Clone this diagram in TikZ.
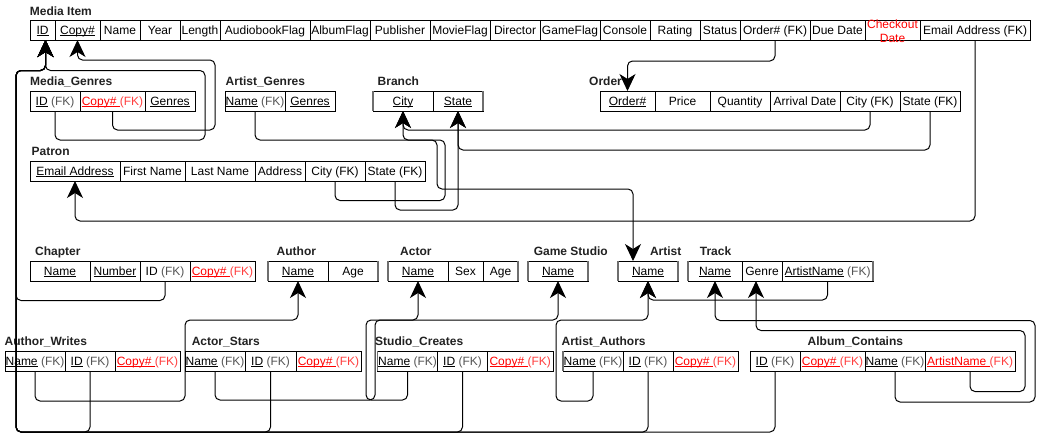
\documentclass[tikz,border=0pt]{standalone}
\usepackage{fontspec}
\setmainfont{Liberation Sans}
\usetikzlibrary{arrows.meta,calc}
\definecolor{fkgray}{HTML}{555555}
\definecolor{fkred}{HTML}{FF4040}
\definecolor{rd}{HTML}{FF0000}
\definecolor{ttlc}{HTML}{222222}
\definecolor{sidec}{HTML}{6E6E6E}
\newcommand\ulx[1]{\setbox0\hbox{#1}\rlap{\rule[-1.6pt]{\wd0}{0.75pt}}\box0\relax}
\newcommand\fk{{\color{fkgray}(FK)}}
\newcommand\fkr{{\color{fkred}(FK)}}
\newcommand\rcopy{{\color{rd}\ulx{Copy\#\ }\fkr}}
\newcommand\mkcell[5]{\node[cellbox, minimum width={#3-#2}, anchor=north west] (#1) at (#2,#4) {#5};}
\newcommand\ttl[4]{\node[ttlbox] (#1) at (#2,#3) {#4};}
\begin{document}
\begin{tikzpicture}[x=1pt,y=-1pt,
 cellbox/.style={draw, line width=1pt, minimum height=20pt, inner sep=0pt, outer sep=0pt, text height=8.6pt, text depth=0pt, font=\fontsize{12}{14}\selectfont},
 ttlbox/.style={anchor=base west, inner sep=0pt, font=\fontsize{12}{14}\selectfont\bfseries, text=ttlc},
 gside/.style={draw=sidec, line width=1.6pt},
 conn/.style={draw, line width=1pt, rounded corners=5pt, -{Stealth[length=17pt,width=16pt,inset=5pt]}}]
\fill[white] (0,0) rectangle (1052,447);
\useasboundingbox (0,0) rectangle (1052,447);

% Titles
\ttl{tMI}{29.7}{15.1}{Media Item}
\ttl{tMG}{30}{85.5}{Media\_Genres}
\ttl{tAG}{225.5}{85.5}{Artist\_Genres}
\ttl{tBR}{377.5}{85.5}{Branch}
\ttl{tOR}{589}{85.5}{Order}
\ttl{tPA}{31.4}{155}{Patron}
\ttl{tCH}{35}{255.3}{Chapter}
\ttl{tAU}{276.5}{255.3}{Author}
\ttl{tAC}{400}{255.3}{Actor}
\ttl{tGS}{533.6}{255.3}{Game Studio}
\ttl{tAR}{649.8}{255.3}{Artist}
\ttl{tTR}{699.7}{255.3}{Track}
\ttl{tAW}{4.4}{345.6}{Author\_Writes}
\ttl{tAS}{191.6}{345.6}{Actor\_Stars}
\ttl{tSC}{375}{345.6}{Studio\_Creates}
\ttl{tAA}{561.4}{345.6}{Artist\_Authors}
\ttl{tAL}{807.5}{345.6}{Album\_Contains}

% Media Item
\mkcell{miID}{30}{55}{20}{\ulx{ID}}
\mkcell{miCopy}{55}{100}{20}{\ulx{Copy\#}}
\mkcell{miName}{100}{140}{20}{Name}
\mkcell{miYear}{140}{180}{20}{Year}
\mkcell{miLen}{180}{220}{20}{Length}
\mkcell{miAud}{220}{310}{20}{AudiobookFlag}
\mkcell{miAlb}{310}{370}{20}{AlbumFlag}
\mkcell{miPub}{370}{430}{20}{Publisher}
\mkcell{miMov}{430}{490}{20}{MovieFlag}
\mkcell{miDir}{490}{540}{20}{Director}
\mkcell{miGame}{540}{600}{20}{GameFlag}
\mkcell{miCon}{600}{650}{20}{Console}
\mkcell{miRat}{650}{700}{20}{Rating}
\mkcell{miSta}{700}{740}{20}{Status}
\mkcell{miOrd}{740}{810}{20}{Order\# (FK)}
\mkcell{miDue}{810}{865}{20}{Due Date}
\mkcell{miChk}{865}{920}{20}{}
\mkcell{miEmail}{920}{1030}{20}{Email Address (FK)}
\node[inner sep=0pt, align=center, text=rd, font=\fontsize{12}{14}\selectfont] (miChkT) at (892.5,31) {Checkout\\Date};

% Media_Genres
\mkcell{mgID}{30}{80}{91}{\ulx{ID} \fk}
\mkcell{mgCopy}{80}{145}{91}{\rcopy}
\mkcell{mgGen}{145}{195}{91}{\ulx{Genres}}
% Artist_Genres
\mkcell{agName}{225}{285}{91}{\ulx{Name} \fk}
\mkcell{agGen}{285}{335}{91}{\ulx{Genres}}
% Branch
\mkcell{brCity}{373}{433}{91}{\ulx{City}}
\mkcell{brState}{433}{483}{91}{\ulx{State}}
% Order
\mkcell{orNum}{600}{655}{91}{\ulx{Order\#}}
\mkcell{orPrice}{655}{710}{91}{Price}
\mkcell{orQty}{710}{770}{91}{Quantity}
\mkcell{orArr}{770}{840}{91}{Arrival Date}
\mkcell{orCity}{840}{900}{91}{City (FK)}
\mkcell{orState}{900}{960}{91}{State (FK)}
% Patron
\mkcell{paEmail}{30}{120}{161}{\ulx{Email Address}}
\mkcell{paFirst}{120}{185}{161}{First Name}
\mkcell{paLast}{185}{255}{161}{Last Name}
\mkcell{paAddr}{255}{305}{161}{Address}
\mkcell{paCity}{305}{365}{161}{City (FK)}
\mkcell{paState}{365}{425}{161}{State (FK)}
% Chapter
\mkcell{chName}{30}{90}{261}{\ulx{Name}}
\mkcell{chNum}{90}{140}{261}{\ulx{Number}}
\mkcell{chID}{140}{190}{261}{ID \fk}
\mkcell{chCopy}{190}{255}{261}{\rcopy}
% Author
\mkcell{auName}{268}{328}{261}{\ulx{Name}}
\mkcell{auAge}{328}{378}{261}{Age}
% Actor
\mkcell{acName}{388}{448}{261}{\ulx{Name}}
\mkcell{acSex}{448}{483}{261}{Sex}
\mkcell{acAge}{483}{518}{261}{Age}
% Game Studio
\mkcell{gsName}{528}{588}{261}{\ulx{Name}}
% Artist
\mkcell{arName}{618}{678}{261}{\ulx{Name}}
% Track
\mkcell{trName}{688}{742}{261}{\ulx{Name}}
\mkcell{trGenre}{742}{782}{261}{Genre}
\mkcell{trArt}{782}{873}{261}{\ulx{ArtistName} \fk}
% Author_Writes
\mkcell{awName}{5}{65}{351}{\ulx{Name} \fk}
\mkcell{awID}{65}{115}{351}{\ulx{ID} \fk}
\mkcell{awCopy}{115}{180}{351}{\rcopy}
% Actor_Stars
\mkcell{asName}{185}{245}{351}{\ulx{Name} \fk}
\mkcell{asID}{245}{296}{351}{\ulx{ID} \fk}
\mkcell{asCopy}{296}{361}{351}{\rcopy}
% Studio_Creates
\mkcell{scName}{377.5}{437.5}{351}{\ulx{Name} \fk}
\mkcell{scID}{437.5}{487.5}{351}{\ulx{ID} \fk}
\mkcell{scCopy}{487.5}{553}{351}{\rcopy}
% Artist_Authors
\mkcell{aaName}{563}{623}{351}{\ulx{Name} \fk}
\mkcell{aaID}{623}{673}{351}{\ulx{ID} \fk}
\mkcell{aaCopy}{673}{738}{351}{\rcopy}
% Album_Contains
\mkcell{alID}{750}{800}{351}{\ulx{ID} \fk}
\mkcell{alCopy}{800}{865}{351}{\rcopy}
\mkcell{alName}{865}{925}{351}{\ulx{Name} \fk}
\mkcell{alArt}{925}{1015}{351}{{\color{rd}\ulx{ArtistName\ }\fkr}}

% grey outer sides of some tables
\foreach \a/\b in {brCity/brState,auName/auAge,acName/acAge,gsName/gsName,arName/arName,trName/trArt}{
  \draw[gside] (\a.north west) -- (\a.south west);
  \draw[gside] (\b.north east) -- (\b.south east);
}
\draw[gside] (scName.north west) -- (scName.south west);
\draw[gside] (aaName.north west) -- (aaName.south west);

% helper coordinates
\coordinate (miIDt) at ($(miID.south)+(3,0)$);
\coordinate (arTop) at ($(arName.north)+(-15,0)$);
\coordinate (trGenT) at ($(trGenre.south)+(-6,0)$);

% Connectors
\draw[conn] (mgID.south) |- (205,140) |- (45.5,70.5) -- (miIDt);
\draw[conn] (mgCopy.south) |- (215,130) |- (77.5,60) -- (miCopy.south);
\draw[conn] (chID.south) |- (16,300.5) |- (45.5,70.5) -- (miIDt);
\foreach \s in {awID,asID,scID,aaID,alID}
  \draw[conn] (\s.south) |- (16,432) |- (45.5,70.5) -- (miIDt);
\draw[conn] (agName.south) |- (437,140) |- (633,189) -- (arTop);
\draw[conn] (paCity.south) |- (445,200.5) |- (403,140) -- (brCity.south);
\draw[conn] (paState.south) |- (458,210) -- (brState.south);
\draw[conn] (orCity.south) |- (403,130) -- (brCity.south);
\draw[conn] (orState.south) |- (458,150) -- (brState.south);
\draw[conn] (miOrd.south) |- (627.5,61) -- (orNum.north);
\draw[conn] (miEmail.south) |- (75,221) -- (paEmail.south);
\draw[conn] (awName.south) |- (185,401) |- (298,320) -- (auName.south);
\draw[conn] (asName.south) |- (375,400) |- (418,320) -- (acName.south);
\draw[conn] (scName.south) |- (366,400) |- (558,320) -- (gsName.south);
\draw[conn] (aaName.south) |- (556,401) |- (648,320) -- (arName.south);
\draw[conn] (trArt.south) |- (648,300) -- (arName.south);
\draw[conn] (alName.south) |- (1035,402) |- (715,320.5) -- (trName.south);
\draw[conn] (alArt.south) |- (1025,391.5) |- (756,330.5) -- (trGenT);
\end{tikzpicture}
\end{document}
